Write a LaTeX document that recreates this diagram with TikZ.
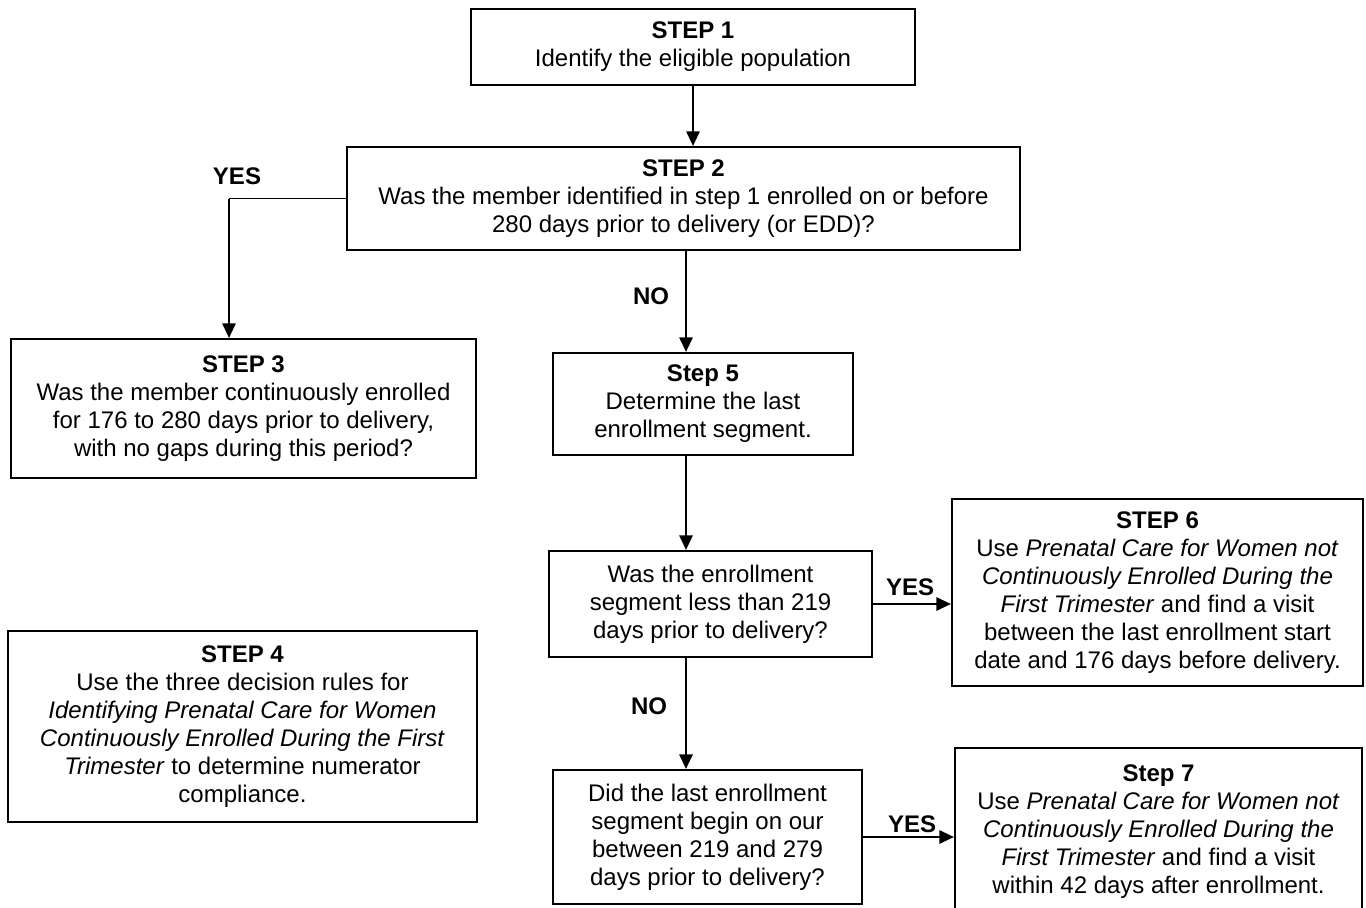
\documentclass[tikz,border=0pt]{standalone}
\usepackage{fontspec}
\setmainfont{Liberation Sans}
\usetikzlibrary{arrows.meta}
\begin{document}
\begin{tikzpicture}[x=0.75pt,y=-0.75pt,
  box/.style={draw=black,line width=1.6pt,align=center,inner sep=0pt,
    font=\fontsize{18}{21}\selectfont},
  arr/.style={line width=1.6pt,-{Triangle[length=11pt,width=10pt]}},
  lab/.style={font=\fontsize{18}{21}\selectfont\bfseries,inner sep=0pt}]
\useasboundingbox[fill=white] (0,0) rectangle (1366,907);
\coordinate (spine) at (686,0);
\coordinate (yesx) at (229,0);

\node[box,minimum width=333pt,minimum height=57pt] (s1) at (693,47)
  {\textbf{STEP 1}\\Identify the eligible population};
\node[box,minimum width=504.75pt,minimum height=77.25pt] (s2) at (683.5,198.5)
  {\textbf{STEP 2}\\Was the member identified in step 1 enrolled on or before\\280 days prior to delivery (or EDD)?};
\node[box,minimum width=348.75pt,minimum height=104.25pt] (s3) at (243.5,408.5)
  {\textbf{STEP 3}\\Was the member continuously enrolled\\for 176 to 280 days prior to delivery,\\with no gaps during this period?};
\node[box,minimum width=351.75pt,minimum height=143.25pt] (s4) at (242.5,726.5)
  {\textbf{STEP 4}\\Use the three decision rules for\\\textit{Identifying Prenatal Care for Women}\\\textit{Continuously Enrolled During the First}\\\textit{Trimester} to determine numerator\\compliance.};
\node[box,minimum width=225pt,minimum height=76.5pt] (s5) at (703,404)
  {\textbf{Step 5}\\Determine the last\\enrollment segment.};
\node[box,minimum width=242.25pt,minimum height=79.5pt] (d1) at (710.5,604)
  {Was the enrollment\\segment less than 219\\days prior to delivery?};
\node[box,minimum width=308.25pt,minimum height=140.25pt] (s6) at (1157.5,592.5)
  {\textbf{STEP 6}\\Use \textit{Prenatal Care for Women not}\\\textit{Continuously Enrolled During the}\\\textit{First Trimester} and find a visit\\between the last enrollment start\\date and 176 days before delivery.};
\node[box,minimum width=231.75pt,minimum height=100.5pt] (d2) at (707.5,837)
  {Did the last enrollment\\segment begin on our\\between 219 and 279\\days prior to delivery?};
\node[box,minimum width=305.25pt,minimum height=125.25pt] (s7) at (1158.5,831.5)
  {\textbf{Step 7}\\Use \textit{Prenatal Care for Women not}\\\textit{Continuously Enrolled During the}\\\textit{First Trimester} and find a visit\\within 42 days after enrollment.};

\draw[arr] (s1.south) -- (s1.south |- s2.north);
\draw[line width=0.9pt] (s2.west) -- (s2.west -| yesx);
\draw[arr] (s2.west -| yesx) -- (yesx |- s3.north);
\draw[arr] (s2.south -| spine) -- (s5.north -| spine);
\draw[arr] (s5.south -| spine) -- (d1.north -| spine);
\draw[arr] (d1.south -| spine) -- (d2.north -| spine);
\draw[arr] (d1.east) -- (d1.east -| s6.west);
\draw[arr] (d2.east) -- (d2.east -| s7.west);

\node[lab] (y1) at (237,176) {YES};
\node[lab] (n1) at (651,296) {NO};
\node[lab] (y2) at (910,587) {YES};
\node[lab] (n2) at (649,706) {NO};
\node[lab] (y3) at (912,824) {YES};
\end{tikzpicture}
\end{document}
